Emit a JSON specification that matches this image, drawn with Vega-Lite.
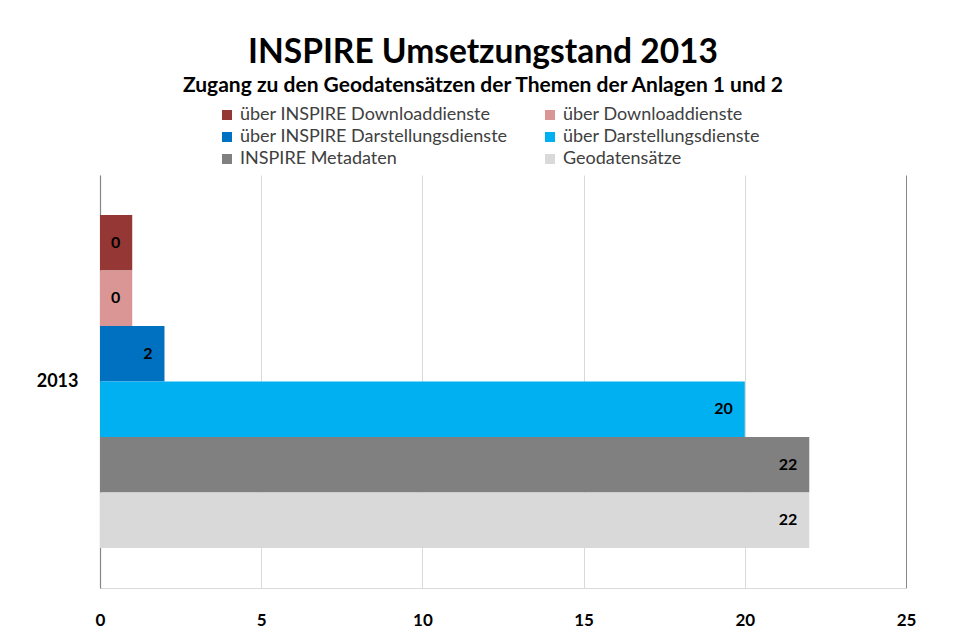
{
  "$schema": "https://vega.github.io/schema/vega-lite/v6.json",
  "autosize": "none",
  "width": 806,
  "height": 413,
  "padding": {"left": 100, "top": 175, "right": 47, "bottom": 55},
  "background": "white",
  "title": {
    "text": "INSPIRE Umsetzungstand 2013",
    "subtitle": "Zugang zu den Geodatensätzen der Themen der Anlagen 1 und 2",
    "anchor": "middle",
    "dx": -20,
    "fontSize": 33.5,
    "fontWeight": "bold",
    "color": "#000000",
    "subtitleFontSize": 21,
    "subtitleFontWeight": "bold",
    "subtitleColor": "#000000",
    "subtitlePadding": 5,
    "offset": 9
  },
  "data": {
    "values": [
      {"year": "2013", "series": "über INSPIRE Downloaddienste", "order": 1, "value": 1, "label": "0"},
      {"year": "2013", "series": "über Downloaddienste", "order": 2, "value": 1, "label": "0"},
      {"year": "2013", "series": "über INSPIRE Darstellungsdienste", "order": 3, "value": 2, "label": "2"},
      {"year": "2013", "series": "über Darstellungsdienste", "order": 4, "value": 20, "label": "20"},
      {"year": "2013", "series": "INSPIRE Metadaten", "order": 5, "value": 22, "label": "22"},
      {"year": "2013", "series": "Geodatensätze", "order": 6, "value": 22, "label": "22"}
    ]
  },
  "encoding": {
    "y": {
      "field": "year",
      "type": "nominal",
      "scale": {"paddingInner": 0, "paddingOuter": 0.12},
      "axis": {
        "title": null,
        "labelFontWeight": "bold",
        "labelFontSize": 18,
        "labelColor": "#000000",
        "labelPadding": 22,
        "ticks": false,
        "domainColor": "#868686",
        "domainWidth": 1.2
      }
    },
    "yOffset": {
      "field": "series",
      "type": "nominal",
      "sort": {"field": "order"},
      "scale": {"paddingInner": 0, "paddingOuter": 0}
    },
    "x": {
      "field": "value",
      "type": "quantitative",
      "scale": {"domain": [0, 25], "nice": false},
      "axis": {
        "title": null,
        "values": [0, 5, 10, 15, 20, 25],
        "grid": true,
        "gridColor": {"condition": {"test": "datum.value === 25", "value": "#888888"}, "value": "#d9d9d9"},
        "domainColor": "#d9d9d9",
        "ticks": false,
        "labelFlush": false,
        "labelFontWeight": "bold",
        "labelFontSize": 17,
        "labelColor": "#000000",
        "labelPadding": 24
      }
    }
  },
  "layer": [
    {
      "mark": {"type": "bar", "opacity": 1},
      "encoding": {
        "color": {
          "field": "series",
          "type": "nominal",
          "scale": {
            "domain": ["über INSPIRE Downloaddienste", "über INSPIRE Darstellungsdienste", "INSPIRE Metadaten", "über Downloaddienste", "über Darstellungsdienste", "Geodatensätze"],
            "range": ["#953735", "#0070C0", "#808080", "#D99694", "#00B0F0", "#D9D9D9"]
          },
          "legend": {
            "orient": "none",
            "legendX": 118,
            "legendY": -69,
            "columns": 2,
            "title": null,
            "symbolType": "square",
            "symbolSize": 100,
            "symbolOpacity": 1,
            "symbolStrokeWidth": 0,
            "labelFontSize": 18,
            "labelColor": "#404040",
            "labelOffset": 4,
            "rowPadding": 4,
            "columnPadding": 33,
            "labelLimit": 400
          }
        }
      }
    },
    {
      "mark": {"type": "text", "align": "right", "dx": -12, "fontWeight": "bold", "fontSize": 16, "color": "#000000"},
      "encoding": {"text": {"field": "label"}}
    }
  ],
  "config": {
    "font": "Lato",
    "view": {"stroke": null}
  }
}
